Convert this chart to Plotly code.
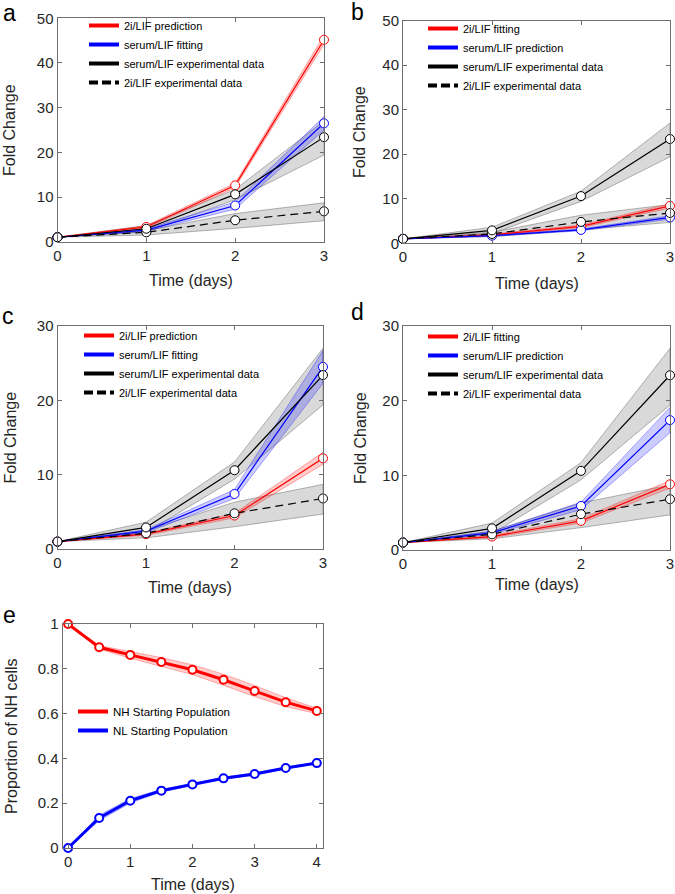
import plotly.graph_objects as go

W, H = 675, 894

# ---------------- data ----------------
t3 = [0, 1, 2, 3]

serum_exp = [1.0, 2.9, 10.6, 23.4]
serum_exp_lo = [1.0, 2.2, 9.4, 19.4]
serum_exp_hi = [1.0, 3.6, 11.7, 27.0]
twoi_exp = [1.0, 2.1, 4.8, 6.8]
twoi_exp_lo = [1.0, 1.5, 3.0, 4.7]
twoi_exp_hi = [1.0, 2.5, 6.3, 8.7]

red_a = [1.0, 3.3, 12.6, 45.2]
red_a_err = [0.0, 0.3, 0.5, 1.0]
blue_a = [1.0, 2.6, 8.1, 26.5]
blue_a_err = [0.0, 0.3, 0.8, 1.5]

red_b = [1.0, 1.9, 3.8, 8.4]
red_b_err = [0.0, 0.2, 0.3, 0.5]
blue_b = [1.0, 1.7, 3.0, 5.8]
blue_b_err = [0.0, 0.15, 0.2, 0.4]

red_c = [1.0, 2.0, 4.5, 12.2]
red_c_err = [0.0, 0.15, 0.3, 0.8]
blue_c = [1.0, 2.4, 7.4, 24.5]
blue_c_err = [0.0, 0.2, 0.6, 2.2]

red_d = [1.0, 1.8, 3.9, 8.8]
red_d_err = [0.0, 0.15, 0.3, 0.5]
blue_d = [1.0, 2.3, 5.9, 17.4]
blue_d_err = [0.0, 0.2, 0.5, 1.7]

t_e = [0, 0.5, 1, 1.5, 2, 2.5, 3, 3.5, 4]
nh_start = [1.0, 0.896, 0.862, 0.830, 0.796, 0.751, 0.701, 0.651, 0.612]
nh_start_err = [0.0, 0.008, 0.015, 0.02, 0.022, 0.025, 0.025, 0.02, 0.012]
nl_start = [0.0, 0.134, 0.211, 0.256, 0.284, 0.311, 0.330, 0.357, 0.379]
nl_start_err = [0.0, 0.012, 0.01, 0.006, 0.005, 0.005, 0.005, 0.004, 0.004]

legend_ac = ["2i/LIF prediction", "serum/LIF fitting",
             "serum/LIF experimental data", "2i/LIF experimental data"]
legend_bd = ["2i/LIF fitting", "serum/LIF prediction",
             "serum/LIF experimental data", "2i/LIF experimental data"]
legend_e = ["NH Starting Population", "NL Starting Population"]

# ---------------- style ----------------
FONT = "Liberation Sans, Arial, Helvetica, sans-serif"
TXT = "#262626"
AXC = "#6e6e6e"
RED = "#ff0000"
BLUE = "#0000ff"

fig = go.Figure()


def band(x, lo, hi, fill, edge, xa, ya):
    fig.add_trace(go.Scatter(
        x=list(x) + list(x)[::-1], y=list(hi) + list(lo)[::-1],
        fill="toself", fillcolor=fill, mode="lines",
        line=dict(color=edge, width=0.8), hoverinfo="skip",
        showlegend=False, xaxis=xa, yaxis=ya))


def curve(x, y, color, xa, ya, dash="solid", width=1.2, msize=9, mw=1):
    fig.add_trace(go.Scatter(
        x=x, y=y, mode="lines+markers",
        line=dict(color=color, width=width, dash=dash),
        marker=dict(symbol="circle", size=msize, color="white",
                    line=dict(color=color, width=mw)),
        cliponaxis=False, showlegend=False, xaxis=xa, yaxis=ya))


def legend_entries(names, colors, dashes, lg, width=4):
    for n, c, d in zip(names, colors, dashes):
        fig.add_trace(go.Scatter(
            x=[None], y=[None], mode="lines", name=n,
            line=dict(color=c, width=width, dash=d),
            legend=lg, showlegend=True, hoverinfo="skip"))


panels = [
    ("x", "y", red_a, red_a_err, blue_a, blue_a_err, legend_ac, "legend"),
    ("x2", "y2", red_b, red_b_err, blue_b, blue_b_err, legend_bd, "legend2"),
    ("x3", "y3", red_c, red_c_err, blue_c, blue_c_err, legend_ac, "legend3"),
    ("x4", "y4", red_d, red_d_err, blue_d, blue_d_err, legend_bd, "legend4"),
]

for xa, ya, r, re, b, be, names, lg in panels:
    band(t3, twoi_exp_lo, twoi_exp_hi, "rgba(128,128,128,0.30)", "rgba(90,90,90,0.55)", xa, ya)
    band(t3, serum_exp_lo, serum_exp_hi, "rgba(128,128,128,0.30)", "rgba(90,90,90,0.55)", xa, ya)
    band(t3, [v - e for v, e in zip(r, re)], [v + e for v, e in zip(r, re)],
         "rgba(255,0,0,0.20)", "rgba(255,0,0,0.40)", xa, ya)
    band(t3, [v - e for v, e in zip(b, be)], [v + e for v, e in zip(b, be)],
         "rgba(0,0,255,0.20)", "rgba(0,0,255,0.40)", xa, ya)
    curve(t3, r, RED, xa, ya)
    curve(t3, b, BLUE, xa, ya)
    curve(t3, twoi_exp, "black", xa, ya, dash="8px,5px")
    curve(t3, serum_exp, "black", xa, ya)
    legend_entries(names, [RED, BLUE, "black", "black"],
                   ["solid", "solid", "solid", "9px,4px"], lg)

# panel e
band(t_e, [v - e for v, e in zip(nh_start, nh_start_err)],
     [v + e for v, e in zip(nh_start, nh_start_err)],
     "rgba(255,0,0,0.20)", "rgba(255,0,0,0.35)", "x5", "y5")
band(t_e, [v - e for v, e in zip(nl_start, nl_start_err)],
     [v + e for v, e in zip(nl_start, nl_start_err)],
     "rgba(0,0,255,0.20)", "rgba(0,0,255,0.35)", "x5", "y5")
curve(t_e, nh_start, RED, "x5", "y5", width=3, msize=8, mw=2)
curve(t_e, nl_start, BLUE, "x5", "y5", width=3, msize=8, mw=2)
legend_entries(legend_e, [RED, BLUE], ["solid", "solid"], "legend5")

# ---------------- layout ----------------
def dom_x(l, r):
    return [l / W, r / W]


def dom_y(top, bottom):
    return [1 - bottom / H, 1 - top / H]


axis_common = dict(showline=True, linecolor=AXC, linewidth=1, mirror="ticks",
                   ticks="inside", ticklen=4, tickcolor=AXC, showgrid=False,
                   zeroline=False, automargin=False,
                   tickfont=dict(family=FONT, size=15, color=TXT))

boxes = {
    "1": (57.5, 324, 18.3, 241.7),
    "2": (403, 670, 20.5, 243.3),
    "3": (57.5, 323, 326, 549),
    "4": (403, 670, 326, 550),
    "5": (62.5, 323, 624, 848),
}
yranges = {"1": [0, 50], "2": [0, 50], "3": [0, 30], "4": [0, 30], "5": [0, 1]}
ytickvals = {"1": [0, 10, 20, 30, 40, 50], "2": [0, 10, 20, 30, 40, 50],
             "3": [0, 10, 20, 30], "4": [0, 10, 20, 30],
             "5": [0, 0.2, 0.4, 0.6, 0.8, 1]}
yticktext = {"5": ["0", "0.2", "0.4", "0.6", "0.8", "1"]}

layout = dict(width=W, height=H,
              margin=dict(l=0, r=0, t=0, b=0, autoexpand=False),
              paper_bgcolor="white", plot_bgcolor="white",
              font=dict(family=FONT, color=TXT))

for k, (l, r, tp, bt) in boxes.items():
    xk = "xaxis" if k == "1" else "xaxis" + k
    yk = "yaxis" if k == "1" else "yaxis" + k
    anchor_x = "y" if k == "1" else "y" + k
    anchor_y = "x" if k == "1" else "x" + k
    if k == "5":
        xr = [-0.09, 4.1]
        xtv = [0, 1, 2, 3, 4]
    else:
        xr = [0, 3]
        xtv = t3
    layout[xk] = dict(axis_common, domain=dom_x(l, r), anchor=anchor_x,
                      range=xr, tickvals=xtv)
    ya = dict(axis_common, domain=dom_y(tp, bt), anchor=anchor_y,
              range=yranges[k], tickvals=ytickvals[k])
    if k in yticktext:
        ya["ticktext"] = yticktext[k]
    layout[yk] = ya

legend_common = dict(bgcolor="rgba(0,0,0,0)", borderwidth=0,
                     xanchor="left", yanchor="top", itemwidth=30,
                     tracegroupgap=0)
# (legend left px, legend top px)
leg_pos = {"legend": (84, 11), "legend2": (423, 14), "legend3": (79, 321),
           "legend4": (423, 322), "legend5": (73, 697)}
for name, (lx, ty) in leg_pos.items():
    fs = 11.5 if name == "legend5" else 11
    layout[name] = dict(legend_common, x=lx / W, y=1 - ty / H,
                        font=dict(family=FONT, size=fs, color="black"))

fig.update_layout(**layout)

# axis titles and panel letters
ann = []


def txt(x, y, s, size, angle=0, color=TXT):
    ann.append(dict(x=x / W, y=1 - y / H, xref="paper", yref="paper", text=s,
                    showarrow=False, textangle=angle, xanchor="center",
                    yanchor="middle", font=dict(family=FONT, size=size, color=color)))


for (l, r, tp, bt), ylab_x, xlab_y in [
        (boxes["1"], 10, 280), (boxes["2"], 360, 283),
        (boxes["3"], 10, 587), (boxes["4"], 360, 584)]:
    txt((l + r) / 2, xlab_y, "Time (days)", 16)
    txt(ylab_x, (tp + bt) / 2, "Fold Change", 16, -90)
l, r, tp, bt = boxes["5"]
txt((l + r) / 2, 884, "Time (days)", 16)
txt(11, (tp + bt) / 2, "Proportion of NH cells", 16, -90)

for s, x, y in [("a", 9, 13), ("b", 357, 12), ("c", 8, 316), ("d", 357, 312), ("e", 9, 615)]:
    txt(x, y, s, 23, color="black")

fig.update_layout(annotations=ann)
fig.write_html("out.html",
               config={"displayModeBar": False, "staticPlot": True},
               post_script="document.body.style.margin='0px';"
                           "document.body.style.overflow='hidden';")
